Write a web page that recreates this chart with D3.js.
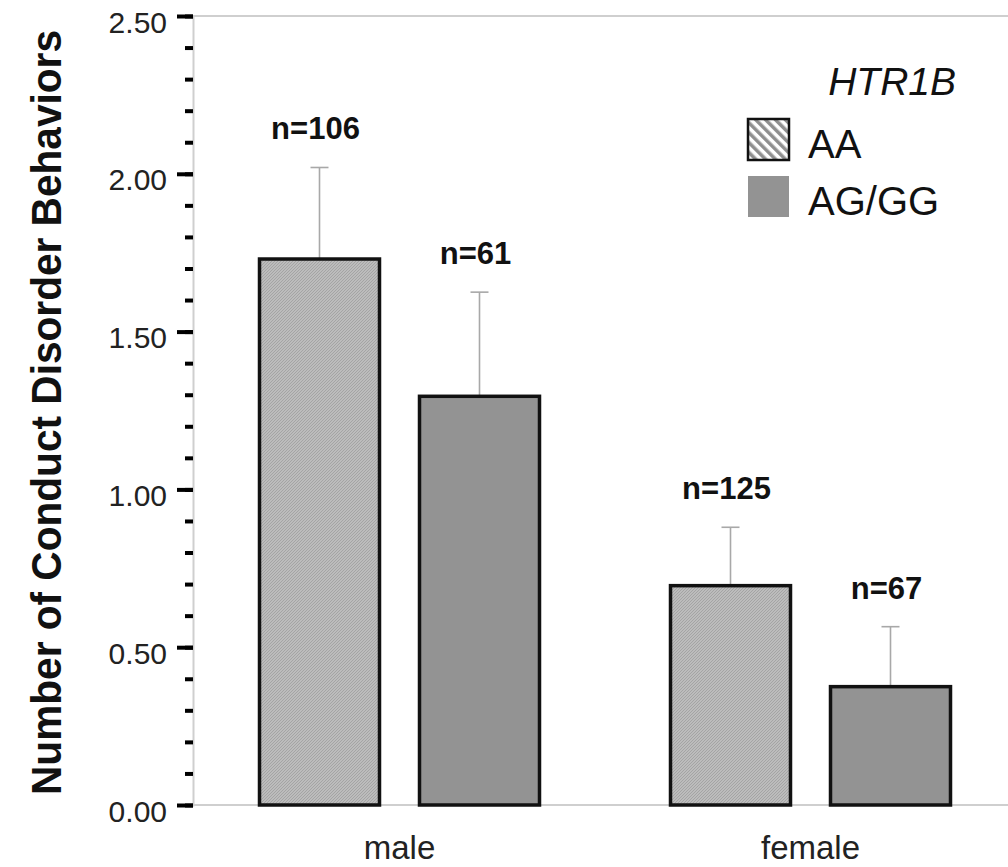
<!DOCTYPE html>
<html>
<head>
<meta charset="utf-8">
<script src="https://cdn.jsdelivr.net/npm/d3@7"></script>
<style>
  body { margin: 0; background: #fff; }
  svg { display: block; font-family: "Liberation Sans", Arial, sans-serif; }
</style>
</head>
<body>
<div id="chart"></div>
<script>
// data
var categories = ["male", "female"];
var series = ["AA", "AG/GG"];
var means = [[1.73, 1.295], [0.695, 0.375]];
var errTops = [[2.02, 1.625], [0.88, 0.565]];
var nLabels = [["n=106", "n=61"], ["n=125", "n=67"]];
var yTicks = [0, 0.5, 1.0, 1.5, 2.0, 2.5];

var svgWidth = 1008;
var svgHeight = 867;

var svg = d3.select("#chart")
  .append("svg")
  .attr("width", svgWidth)
  .attr("height", svgHeight);

// patterns
var defs = svg.append("defs");
var stipple = defs.append("pattern")
  .attr("id", "stipple")
  .attr("patternUnits", "userSpaceOnUse")
  .attr("width", 3).attr("height", 3);
stipple.append("rect").attr("width", 3).attr("height", 3).attr("fill", "#bcbcbc");
stipple.append("path").attr("d", "M0,3 L3,0").attr("stroke", "#9e9e9e").attr("stroke-width", 0.8);

var hatch = defs.append("pattern")
  .attr("id", "hatch")
  .attr("patternUnits", "userSpaceOnUse")
  .attr("width", 7).attr("height", 7)
  .attr("patternTransform", "rotate(-45)");
hatch.append("rect").attr("width", 7).attr("height", 7).attr("fill", "#fff");
hatch.append("rect").attr("width", 3.5).attr("height", 7).attr("fill", "#8f8f8f");

var fills = {"AA": "url(#stipple)", "AG/GG": "#939393"};

// scales
var y = d3.scaleLinear().domain([0, 2.5]).range([805, 16]);
var x0 = d3.scaleBand().domain(categories).range([194, 1016]);
var x1 = d3.scaleBand().domain(series)
  .range([65.5, 345.5])
  .paddingInner(0.25)
  .paddingOuter(0);

var axisX = 193;

// frame lines
svg.append("line")
  .attr("x1", axisX).attr("x2", svgWidth)
  .attr("y1", y(2.5)).attr("y2", y(2.5))
  .attr("stroke", "#cfcfcf").attr("stroke-width", 2);
svg.append("line")
  .attr("x1", axisX).attr("x2", svgWidth)
  .attr("y1", y(0)).attr("y2", y(0))
  .attr("stroke", "#cfcfcf").attr("stroke-width", 2);

// y axis with minor ticks
var yAxisG = svg.append("g").attr("transform", `translate(${axisX},0)`);
yAxisG.call(d3.axisLeft(y).tickValues(d3.range(0, 2.501, 0.1)).tickSize(8).tickFormat(""));
yAxisG.select(".domain").attr("stroke", "#cfcfcf").attr("stroke-width", 2);
yAxisG.selectAll(".tick line").attr("stroke", "#000").attr("stroke-width", 4);

var yMajor = svg.append("g").attr("transform", `translate(${axisX},0)`);
yMajor.call(d3.axisLeft(y).tickValues(yTicks).tickSize(16).tickPadding(10).tickFormat(d3.format(".2f")));
yMajor.select(".domain").remove();
yMajor.selectAll(".tick line").attr("stroke", "#000").attr("stroke-width", 4);
yMajor.selectAll(".tick text")
  .attr("font-size", "30px")
  .attr("font-family", "Liberation Sans, Arial, sans-serif")
  .attr("dy", "16px")
  .attr("fill", "#222");

// y title
svg.append("text")
  .attr("transform", `translate(61, ${(y(2.5) + y(0)) / 2 + 2}) rotate(-90)`)
  .attr("text-anchor", "middle")
  .attr("font-family", "Liberation Sans Narrow, Arial Narrow, sans-serif")
  .attr("font-weight", "bold")
  .attr("font-size", "42px")
  .attr("textLength", 765)
  .attr("lengthAdjust", "spacingAndGlyphs")
  .attr("fill", "#111")
  .text("Number of Conduct Disorder Behaviors");

// bars
var groups = svg.selectAll("g.group")
  .data(categories)
  .enter()
  .append("g")
  .attr("class", "group")
  .attr("transform", d => `translate(${x0(d)},0)`);

groups.each(function(cat, ci) {
  var g = d3.select(this);
  var rows = series.map((s, si) => ({s: s, v: means[ci][si], e: errTops[ci][si], n: nLabels[ci][si]}));

  // error bars
  rows.forEach(r => {
    var cx = x1(r.s) + x1.bandwidth() / 2;
    g.append("line")
      .attr("x1", cx).attr("x2", cx)
      .attr("y1", y(r.v)).attr("y2", y(r.e))
      .attr("stroke", "#a8a8a8").attr("stroke-width", 1.6);
    g.append("line")
      .attr("x1", cx - 9).attr("x2", cx + 9)
      .attr("y1", y(r.e)).attr("y2", y(r.e))
      .attr("stroke", "#a8a8a8").attr("stroke-width", 1.6);
    g.append("text")
      .attr("x", cx - 4)
      .attr("y", y(r.e) - 28)
      .attr("text-anchor", "middle")
      .attr("font-weight", "bold")
      .attr("font-size", "31px")
      .attr("fill", "#111")
      .text(r.n);
  });

  g.selectAll("rect")
    .data(rows)
    .enter()
    .append("rect")
    .attr("x", d => x1(d.s))
    .attr("y", d => y(d.v))
    .attr("width", x1.bandwidth())
    .attr("height", d => y(0) - y(d.v))
    .attr("fill", d => fills[d.s])
    .attr("stroke", "#111")
    .attr("stroke-width", 3.5);
});

// category labels
svg.selectAll("text.cat")
  .data(categories)
  .enter()
  .append("text")
  .attr("class", "cat")
  .attr("x", d => x0(d) + x0.bandwidth() / 2)
  .attr("y", 859)
  .attr("text-anchor", "middle")
  .attr("font-size", "33px")
  .attr("fill", "#222")
  .text(d => d);

// legend
var legend = svg.append("g");
legend.append("text")
  .attr("x", 956).attr("y", 95)
  .attr("text-anchor", "end")
  .attr("font-style", "italic")
  .attr("font-size", "39px")
  .attr("fill", "#111")
  .text("HTR1B");

var legendFills = {"AA": "url(#hatch)", "AG/GG": "#939393"};
series.forEach((s, i) => {
  var top = 119 + i * 57;
  legend.append("rect")
    .attr("x", 748).attr("y", top)
    .attr("width", 41).attr("height", 41)
    .attr("fill", legendFills[s])
    .attr("stroke", i === 0 ? "#111" : "none")
    .attr("stroke-width", 2.5);
  legend.append("text")
    .attr("x", 808).attr("y", top + 39)
    .attr("font-size", "40px")
    .attr("fill", "#111")
    .text(s);
});
</script>
</body>
</html>
